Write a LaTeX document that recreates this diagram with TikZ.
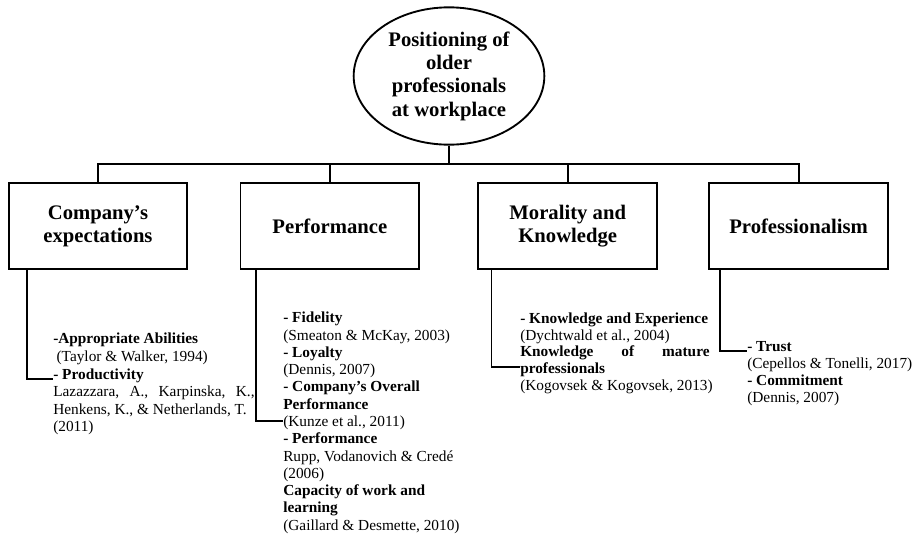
\documentclass[tikz,border=0pt]{standalone}
\usepackage{fontspec}
\setmainfont{Liberation Serif}
\usetikzlibrary{shapes.geometric,positioning}
\tikzset{
  topic/.style={ellipse,draw,line width=1.4pt,minimum width=143pt,minimum height=103pt,
    inner sep=0pt,align=center,font=\bfseries\fontsize{15.5}{17.5}\selectfont},
  factor/.style={rectangle,draw,line width=1.4pt,minimum width=134pt,minimum height=65pt,
    align=center,font=\bfseries\fontsize{15.5}{17.5}\selectfont},
  refs/.style={anchor=north west,inner sep=0pt,align=left,font=\fontsize{11.5}{13.2}\selectfont},
  link/.style={line width=1.4pt}
}

\begin{document}
\begin{tikzpicture}[x=0.75pt,y=-0.75pt]
           \useasboundingbox (0,0) rectangle (920,536);
           \node[topic] (root) at (449,76) {Positioning of\\older\\professionals\\at workplace};
           \node[factor] (comp) at (98,226) {Company’s\\expectations};
           \node[factor] (perf) [right=38.5pt of comp] {Performance};
           \node[factor] (moral) [right=43pt of perf] {Morality and\\Knowledge};
           \node[factor] (prof) [right=37.75pt of moral] {Professionalism};
           \coordinate (bus) at (449,164);
           % tree above the boxes
           \draw[link] (root.south) -- (bus);
           \draw[link] (comp.north) |- (bus) -| (prof.north);
           \draw[link] (perf.north) -- (perf.north |- bus);
           \draw[link] (moral.north) -- (moral.north |- bus);
           % references below each box
           \node[refs] (compref) at (53,333) {\textbf{-Appropriate Abilities}\\
             \hspace{2.5pt}(Taylor \& Walker, 1994)\\
             \textbf{- Productivity}\\
             \makebox[151pt][s]{Lazazzara, A., Karpinska, K.,}\\
             Henkens, K., \& Netherlands, T.\\
             (2011)};
           \node[refs,font=\fontsize{11.5}{12.95}\selectfont] (perfref) at (283,312) {\textbf{- Fidelity}\\
             (Smeaton \& McKay, 2003)\\
             \textbf{- Loyalty}\\
             (Dennis, 2007)\\
             \textbf{- Company’s Overall}\\
             \textbf{Performance}\\
             (Kunze et al., 2011)\\
             \textbf{- Performance}\\
             Rupp, Vodanovich \& Credé\\
             (2006)\\
             \textbf{Capacity of work and}\\
             \textbf{learning}\\
             (Gaillard \& Desmette, 2010)};
           \node[refs,font=\fontsize{11.5}{12.4}\selectfont] (moralref) at (520,313) {\textbf{- Knowledge and Experience}\\
             (Dychtwald et al., 2004)\\
             \makebox[142pt][s]{\textbf{Knowledge of mature}}\\
             \textbf{professionals}\\
             (Kogovsek \& Kogovsek, 2013)};
           \node[refs,font=\fontsize{11.5}{12.8}\selectfont] (profref) at (747,341) {\textbf{- Trust}\\
             (Cepellos \& Tonelli, 2017)\\
             \textbf{- Commitment}\\
             (Dennis, 2007)};
           \coordinate (j1) at (53,379);
           \coordinate (j2) at (283,421);
           \coordinate (j3) at (520,367);
           \coordinate (j4) at (747,351);
           \draw[link] ([xshift=14.25pt]comp.south west) |- (j1);
           \draw[link] ([xshift=12pt]perf.south west) |- (j2);
           \draw[link] ([xshift=10.5pt]moral.south west) |- (j3);
           \draw[link] ([xshift=9pt]prof.south west) |- (j4);
        \end{tikzpicture}
\end{document}
